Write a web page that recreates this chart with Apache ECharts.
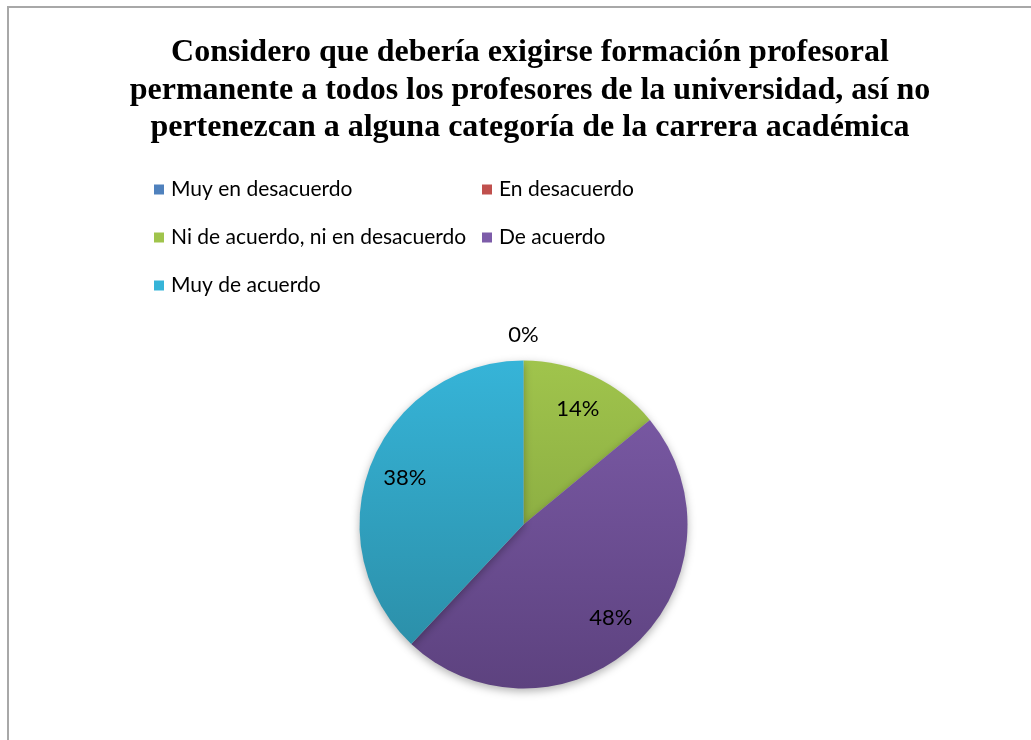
<!DOCTYPE html>
<html><head><meta charset="utf-8">
<script src="https://cdn.jsdelivr.net/npm/echarts@6/dist/echarts.min.js"></script>
<style>html,body{margin:0;padding:0;background:#fff}#c{width:1031px;height:740px}</style>
</head><body><div id="c"></div>
<script>
const titleText = 'Considero que debería exigirse formación profesoral\npermanente a todos los profesores de la universidad, así no\npertenezcan a alguna categoría de la carrera académica';
const categories = ['Muy en desacuerdo','En desacuerdo','Ni de acuerdo, ni en desacuerdo','De acuerdo','Muy de acuerdo'];
const values = [0, 0, 14, 48, 38];
const colorsTop = ['#4f81bd','#c0504d','#a0c44c','#7d5ca9','#36b4d8'];
const colorsBot = ['#3a659a','#9a3c3a','#7a9a3a','#5d427f','#2a8aa2'];

const chart = echarts.init(document.getElementById('c'), null, {renderer:'canvas'});
const cx = 523.5, cy = 524.5, R = 164;
function grad(i){
  return new echarts.graphic.LinearGradient(0, cy - R, 0, cy + R, [
    {offset:0, color:colorsTop[i]}, {offset:1, color:colorsBot[i]}], true);
}
const mainData = categories.map((n,i)=>({name:n, value:values[i], itemStyle:{color:grad(i)}}));
const labelFont = {fontFamily:'Lato', fontSize:22, color:'#000'};
const legendBase = {
  orient:'vertical', itemWidth:10, itemHeight:10, itemGap:27, icon:'rect', padding:0,
  textStyle:{fontFamily:'Lato', fontSize:21, color:'#000', padding:[0,0,0,2]}
};
const leftCol = [0,2,4], rightCol = [1,3];
const option = {
  backgroundColor:'#fff',
  animation:false,
  title:{text:titleText, left:525, textAlign:'center', top:29,
    textStyle:{fontFamily:'Liberation Serif', fontWeight:'bold', fontSize:32, lineHeight:37.5, color:'#000'}},
  legend:[
    {...legendBase, left:154, top:179, data:leftCol.map(i=>({name:categories[i], itemStyle:{color:colorsTop[i]}}))},
    {...legendBase, left:482, top:179, data:rightCol.map(i=>({name:categories[i], itemStyle:{color:colorsTop[i]}}))}
  ],
  graphic:[{type:'rect', shape:{x:8, y:7, width:1200, height:900}, style:{fill:'none', stroke:'#a8a8a8', lineWidth:2}, silent:true}],
  series:[
    {type:'pie', center:[cx,cy], radius:[0,R], startAngle:90, clockwise:true,
     data:mainData, label:{show:false}, labelLine:{show:false},
     itemStyle:{shadowBlur:8, shadowOffsetY:3, shadowColor:'rgba(0,0,0,0.3)'},
     emphasis:{disabled:true}},
    {type:'pie', center:[cx,cy], radius:[0,R*1.52], startAngle:90, clockwise:true, silent:true,
     data:categories.map((n,i)=>({name:n, value:values[i], label:{show:values[i]>0}})),
     itemStyle:{color:'rgba(0,0,0,0)'}, labelLine:{show:false},
     label:{position:'inside', formatter:'{d}%', ...labelFont}, emphasis:{disabled:true}},
    {type:'pie', center:[cx,cy], radius:[0,R*2.27], startAngle:90, clockwise:true, silent:true,
     data:categories.map((n,i)=>({name:n, value:values[i], label:{show:values[i]===0}})),
     itemStyle:{color:'rgba(0,0,0,0)'}, labelLine:{show:false},
     label:{position:'inside', formatter:'{d}%', ...labelFont}, emphasis:{disabled:true}}
  ]
};
chart.setOption(option);
</script></body></html>
